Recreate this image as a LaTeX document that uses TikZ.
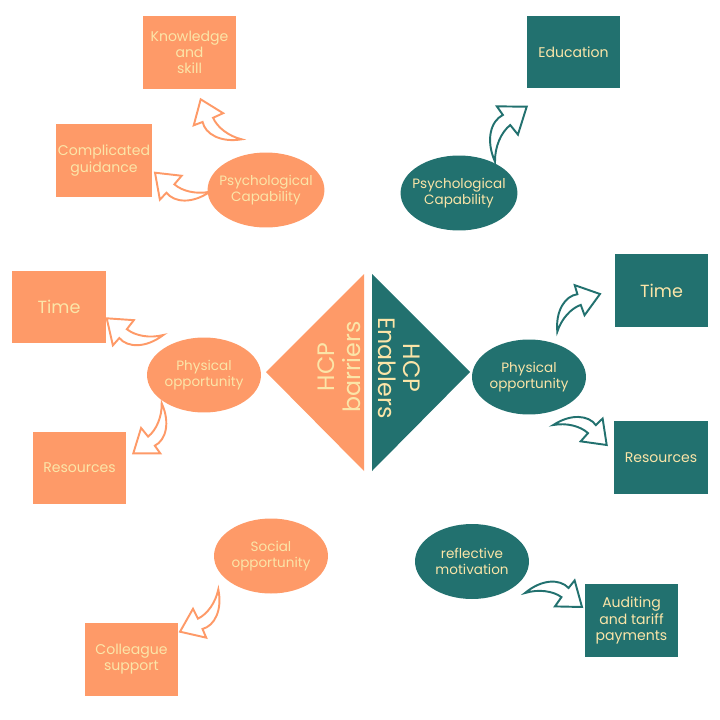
\documentclass[tikz,border=0pt]{standalone}
\usepackage{fontspec}
\setmainfont{Poppins}
\usetikzlibrary{shapes.geometric,calc}
\definecolor{hcporange}{HTML}{FE9A68}
\definecolor{hcpteal}{HTML}{22716F}
\definecolor{hcptext}{HTML}{FBE5A8}
\tikzset{
  box/.style={rectangle,fill=#1,text=hcptext,minimum width=1.87cm,minimum height=1.46cm,
    align=center,inner sep=1pt,font=\fontsize{8}{9.2}\selectfont},
  blob/.style={ellipse,fill=#1,text=hcptext,minimum width=2.28cm,minimum height=1.5cm,
    align=center,inner xsep=-3pt,inner ysep=0pt,font=\fontsize{7.7}{9}\selectfont},
  bigtext/.style={text=hcptext,align=center,font=\fontsize{13.5}{14.5}\selectfont},
}
\newcommand{\hollowarrow}[3]{%
  \begin{scope}[shift={(#1)},x={($(#2)-(#1)$)},y={($(#1)!1!90:(#2)-(#1)$)}]
    \draw[#3,line width=1.1pt,fill=white]
      (0,0) .. controls (0.22,0.3) and (0.52,0.38) .. (0.70,0.26)
      -- (0.77,0.41) -- (1,0) -- (0.55,-0.1) -- (0.62,0.08)
      .. controls (0.45,0.15) and (0.2,0.12) .. cycle;
  \end{scope}}

\begin{document}
\begin{tikzpicture}[x=0.02cm,y=-0.02cm]
\useasboundingbox (0,0) rectangle (720,720);

\fill[hcporange] (266,372) -- (364,274) -- (364,471) -- cycle;
\node[bigtext,rotate=90] (barriers) at (339,367) {HCP\\barriers};
\fill[hcpteal] (372,274) -- (470,372) -- (372,471) -- cycle;
\node[bigtext,rotate=-90] (enablers) at (399,368) {HCP\\Enablers};

\node[blob=hcporange,minimum width=2.32cm] (psyL) at (266,190) {Psychological\\Capability};
\node[box=hcporange] (know) at (189.5,52.5) {Knowledge\\and\\skill};
\node[box=hcporange] (guid) at (104,160.5) {Complicated\\guidance};
\node[blob=hcporange] (phyL) at (204,375) {Physical\\opportunity};
\node[box=hcporange,font=\fontsize{10}{12}\selectfont] (timeL) at (59,307) {Time};
\node[box=hcporange] (resL) at (79.5,468) {Resources};
\node[blob=hcporange] (socL) at (271,556) {Social\\opportunity};
\node[box=hcporange] (coll) at (131.5,659.5) {Colleague\\support};

\node[blob=hcpteal,minimum width=2.32cm] (psyR) at (459,193) {Psychological\\Capability};
\node[box=hcpteal] (edu) at (573.5,52) {Education};
\node[blob=hcpteal] (phyR) at (529,377) {Physical\\opportunity};
\node[box=hcpteal,font=\fontsize{10}{12}\selectfont] (timeR) at (661.5,290.5) {Time};
\node[box=hcpteal] (resR) at (661,457.5) {Resources};
\node[blob=hcpteal] (refl) at (472,561.5) {reflective\\motivation};
\node[box=hcpteal] (audit) at (631.5,620.5) {Auditing\\and tariff\\payments};

\coordinate (know-t) at (241.7,139.3);  \coordinate (know-h) at (200.7,99.3);
\coordinate (guid-t) at (210,191.7);    \coordinate (guid-h) at (155,172.7);
\coordinate (timeL-t) at (163.3,335);   \coordinate (timeL-h) at (106.7,318.3);
\coordinate (resL-t) at (161.7,403.3);  \coordinate (resL-h) at (133.3,453.3);
\coordinate (coll-t) at (218.3,589.3);  \coordinate (coll-h) at (180,631.7);
\coordinate (edu-t) at (495,161.7);     \coordinate (edu-h) at (526.7,106.7);
\coordinate (timeR-t) at (557.3,331.7); \coordinate (timeR-h) at (600,294);
\coordinate (resR-t) at (553.3,425);    \coordinate (resR-h) at (606.7,445);
\coordinate (audit-t) at (525,593);     \coordinate (audit-h) at (582,607);

\hollowarrow{know-t}{know-h}{hcporange}
\hollowarrow{guid-t}{guid-h}{hcporange}
\hollowarrow{timeL-t}{timeL-h}{hcporange}
\hollowarrow{resL-t}{resL-h}{hcporange}
\hollowarrow{coll-t}{coll-h}{hcporange}
\hollowarrow{edu-t}{edu-h}{hcpteal}
\hollowarrow{timeR-t}{timeR-h}{hcpteal}
\hollowarrow{resR-t}{resR-h}{hcpteal}
\hollowarrow{audit-t}{audit-h}{hcpteal}
\end{tikzpicture}
\end{document}
